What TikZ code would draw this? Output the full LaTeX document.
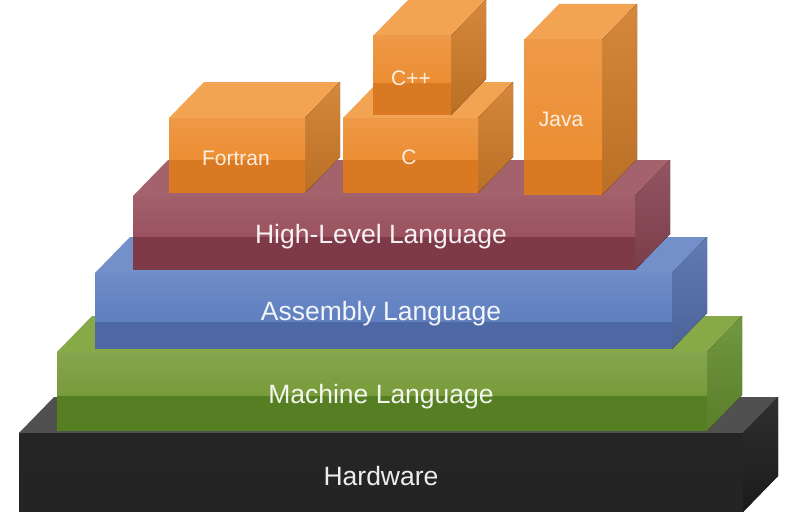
\documentclass[tikz,border=0pt]{standalone}
\usepackage{fontspec}
\setmainfont{Liberation Sans}
\definecolor{hwtop}{HTML}{505050}
\definecolor{hwside}{HTML}{1E1E1E}
\definecolor{hwhi}{HTML}{252525}
\definecolor{hwlo}{HTML}{242424}
\definecolor{grtop}{HTML}{88A948}
\definecolor{grside}{HTML}{668F30}
\definecolor{grhi}{HTML}{789B3A}
\definecolor{grlo}{HTML}{567E22}
\definecolor{bltop}{HTML}{7490CB}
\definecolor{blside}{HTML}{5470AD}
\definecolor{blhi}{HTML}{5F7FC0}
\definecolor{bllo}{HTML}{4D68A4}
\definecolor{rdtop}{HTML}{A4626D}
\definecolor{rdside}{HTML}{8A4653}
\definecolor{rdhi}{HTML}{9A525E}
\definecolor{rdlo}{HTML}{7E3A46}
\definecolor{ortop}{HTML}{F2A453}
\definecolor{orside}{HTML}{D27E2A}
\definecolor{orhi}{HTML}{EC8E33}
\definecolor{orlo}{HTML}{D97A22}
% #1 x left, #2 y top, #3 x right, #4 y bottom, #5 colour prefix, #6 y of band, #7 lightening of the front top
\newcommand\drawblk[7]{%
  \fill[#5top] (#1,#2) -- ++(35,-36) -- (#3+35,#2-36) -- (#3,#2) -- cycle;
  \fill[top color=#5side!92!white, bottom color=#5side!88!black]
    (#3,#2) -- ++(35,-36) -- ++(0,#4-#2) -- (#3,#4) -- cycle;
  \fill[top color=#5hi!#7!white, bottom color=#5hi] (#1,#2) rectangle (#3,#6);
  \fill[#5lo] (#1,#6) rectangle (#3,#4);
}
\tikzset{
  biglabel/.style={text=white, text opacity=0.92, font=\fontsize{26.5}{30}\selectfont, anchor=base},
  smalllabel/.style={text=white, text opacity=0.85, font=\fontsize{21}{25}\selectfont, anchor=base}
}
\begin{document}
\begin{tikzpicture}[x=1pt, y=-1pt]
\useasboundingbox (0,0) rectangle (800,519);
\fill[white] (0,0) rectangle (800,519);
% slabs
\drawblk{19}{433}{743}{512}{hw}{472}{100}
\drawblk{57}{352}{707}{431}{gr}{396}{90}
\drawblk{95}{273}{672}{349}{bl}{322}{90}
\drawblk{133}{196}{635}{270}{rd}{237}{92}
% language boxes
\drawblk{169}{118}{305}{193}{or}{160}{90}
\drawblk{343}{118}{478}{193}{or}{160}{90}
\drawblk{373}{36}{451}{115}{or}{83}{90}
\drawblk{524}{40}{602}{195}{or}{160}{90}
% labels
\node[biglabel] (hw) at (381,485) {Hardware};
\node[biglabel] (ml) at (381,403) {Machine Language};
\node[biglabel] (al) at (381,320) {Assembly Language};
\node[biglabel] (hl) at (381,243) {High-Level Language};
\node[smalllabel] (fortran) at (236,165) {Fortran};
\node[smalllabel] (c) at (409,164) {C};
\node[smalllabel] (cpp) at (411,85) {C++};
\node[smalllabel] (java) at (561,126) {Java};
\end{tikzpicture}
\end{document}
